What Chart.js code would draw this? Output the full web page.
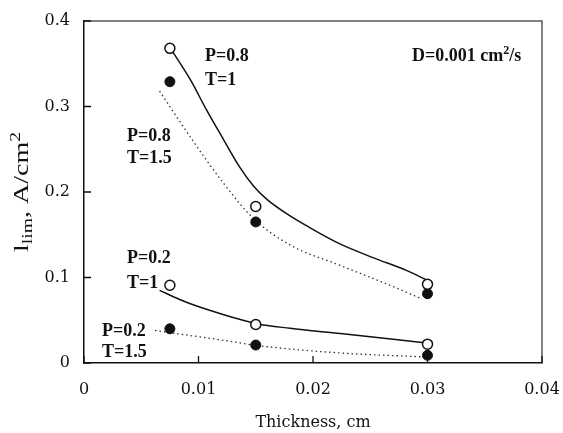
<!DOCTYPE html>
<html>
<head>
<meta charset="utf-8">
<script src="https://cdn.jsdelivr.net/npm/chart.js@4/dist/chart.umd.min.js"></script>
<style>
  body { margin: 0; background: #fff; }
  #wrap { width: 563px; height: 433px; }
</style>
</head>
<body>
<div id="wrap"><canvas id="myChart" width="563" height="433"></canvas></div>
<script>
// measured points (thickness in cm, current in A/cm2)
const thickness = [0.0075, 0.015, 0.03];
const p08t1 = [0.368, 0.183, 0.092];
const p08t15 = [0.329, 0.165, 0.081];
const p02t1 = [0.091, 0.045, 0.022];
const p02t15 = [0.040, 0.021, 0.009];

// model curves
const fitP08T1x = [0.0077, 0.0093, 0.0107, 0.0122, 0.0136, 0.0148, 0.016, 0.018, 0.0195, 0.0224, 0.0253, 0.0282, 0.0298];
const fitP08T1y = [0.365, 0.331, 0.296, 0.261, 0.229, 0.207, 0.191, 0.172, 0.160, 0.139, 0.123, 0.108, 0.098];
const fitP08T15x = [0.0066, 0.0093, 0.0122, 0.0148, 0.018, 0.0224, 0.0267, 0.0295];
const fitP08T15y = [0.318, 0.264, 0.210, 0.169, 0.138, 0.114, 0.091, 0.075];
const fitP02T1x = [0.0066, 0.0084, 0.0101, 0.0151, 0.018, 0.0224, 0.0299];
const fitP02T1y = [0.085, 0.074, 0.0655, 0.046, 0.0406, 0.0344, 0.0234];
const fitP02T15x = [0.0062, 0.0075, 0.0122, 0.0151, 0.0224, 0.0299];
const fitP02T15y = [0.038, 0.0355, 0.0265, 0.0205, 0.0117, 0.007];

const xTickLabels = ['0', '0.01', '0.02', '0.03', '0.04'];
const yTickLabels = ['0', '0.1', '0.2', '0.3', '0.4'];

// text labels inside the plot, anchored in data units
const noteText = ['P=0.8', 'T=1', 'P=0.8', 'T=1.5', 'P=0.2', 'T=1', 'P=0.2', 'T=1.5'];
const noteX = [0.01057, 0.01057, 0.00376, 0.00376, 0.00376, 0.00376, 0.00157, 0.00157];
const noteY = [0.3585, 0.3307, 0.2652, 0.2394, 0.1225, 0.0932, 0.0371, 0.0125];

function pts(xs, ys) {
    return xs.map((x, i) => ({ x: x, y: ys[i] }));
}

const serif = '"DejaVu Serif", serif';
const times = '"Liberation Serif", "Times New Roman", serif';

const decor = {
    id: 'decor',
    afterDraw(chart) {
        const c = chart.ctx;
        const a = chart.chartArea;
        const xs = chart.scales.x, ys = chart.scales.y;
        c.save();

        // frame top / right
        c.strokeStyle = '#5a5a5a';
        c.lineWidth = 1.5;
        c.beginPath();
        c.moveTo(a.left, a.top);
        c.lineTo(a.right, a.top);
        c.lineTo(a.right, a.bottom);
        c.stroke();

        // inward ticks
        c.strokeStyle = '#111';
        c.lineWidth = 1.3;
        c.beginPath();
        xs.ticks.forEach(t => {
            const px = xs.getPixelForValue(t.value);
            c.moveTo(px, a.bottom);
            c.lineTo(px, a.bottom - 7);
        });
        ys.ticks.forEach(t => {
            const py = ys.getPixelForValue(t.value);
            c.moveTo(a.left, py);
            c.lineTo(a.left + 7, py);
        });
        c.stroke();

        // annotations
        c.fillStyle = '#111';
        c.font = 'bold 18px ' + times;
        c.textBaseline = 'middle';
        c.textAlign = 'left';
        noteText.forEach((s, i) => {
            c.fillText(s, xs.getPixelForValue(noteX[i]), ys.getPixelForValue(noteY[i]));
        });

        // D=0.001 cm2/s
        let dx = xs.getPixelForValue(0.02865);
        const dy = ys.getPixelForValue(0.36) + 6;
        c.textBaseline = 'alphabetic';
        c.font = 'bold 18px ' + times;
        c.fillText('D=0.001 cm', dx, dy);
        dx += c.measureText('D=0.001 cm').width;
        c.font = 'bold 12px ' + times;
        c.fillText('2', dx, dy - 7);
        dx += c.measureText('2').width;
        c.font = 'bold 18px ' + times;
        c.fillText('/s', dx, dy);

        // x title
        c.font = '16px ' + serif;
        c.textAlign = 'center';
        c.textBaseline = 'middle';
        c.fillText('Thickness, cm', (a.left + a.right) / 2, 423);

        // y title with sub / superscript
        c.translate(28, 192);
        c.rotate(-Math.PI / 2);
        c.scale(1.4, 1);
        c.textAlign = 'left';
        c.textBaseline = 'alphabetic';
        const parts = [
            ['l', 20, 0], ['lim', 14, 4], [', A/cm', 20, 0], ['2', 14, -8]
        ];
        let w = 0;
        parts.forEach(p => { c.font = p[1] + 'px ' + times; w += c.measureText(p[0]).width; });
        let tx = -w / 2;
        parts.forEach(p => {
            c.font = p[1] + 'px ' + times;
            c.fillText(p[0], tx, p[2]);
            tx += c.measureText(p[0]).width;
        });
        c.restore();
    }
};

const ctx = document.getElementById('myChart').getContext('2d');

new Chart(ctx, {
    type: 'scatter',
    data: {
        datasets: [
            { data: pts(thickness, p08t1), pointStyle: 'circle', pointRadius: 5, pointBackgroundColor: '#fff', pointBorderColor: '#111', pointBorderWidth: 1.5, order: 0 },
            { data: pts(thickness, p08t15), pointStyle: 'circle', pointRadius: 5, pointBackgroundColor: '#111', pointBorderColor: '#111', pointBorderWidth: 1, order: 0 },
            { data: pts(thickness, p02t1), pointStyle: 'circle', pointRadius: 5, pointBackgroundColor: '#fff', pointBorderColor: '#111', pointBorderWidth: 1.5, order: 0 },
            { data: pts(thickness, p02t15), pointStyle: 'circle', pointRadius: 5, pointBackgroundColor: '#111', pointBorderColor: '#111', pointBorderWidth: 1, order: 0 },
            { data: pts(fitP08T1x, fitP08T1y), showLine: true, pointRadius: 0, borderColor: '#111', borderWidth: 1.5, cubicInterpolationMode: 'monotone', order: 1 },
            { data: pts(fitP08T15x, fitP08T15y), showLine: true, pointRadius: 0, borderColor: '#333', borderWidth: 1.3, borderDash: [1.5, 3], cubicInterpolationMode: 'monotone', order: 1 },
            { data: pts(fitP02T1x, fitP02T1y), showLine: true, pointRadius: 0, borderColor: '#111', borderWidth: 1.5, cubicInterpolationMode: 'monotone', order: 1 },
            { data: pts(fitP02T15x, fitP02T15y), showLine: true, pointRadius: 0, borderColor: '#333', borderWidth: 1.3, borderDash: [1.5, 3], cubicInterpolationMode: 'monotone', order: 1 }
        ]
    },
    options: {
        responsive: false,
        animation: false,
        devicePixelRatio: 1,
        layout: { padding: { top: 21, right: 21, left: 0, bottom: 0 } },
        plugins: {
            legend: { display: false },
            tooltip: { enabled: false }
        },
        scales: {
            x: {
                type: 'linear',
                min: 0,
                max: 0.04,
                afterFit: s => { s.height = 70; s.paddingLeft = 0; s.paddingRight = 0; },
                ticks: {
                    stepSize: 0.01,
                    padding: 17,
                    color: '#111',
                    font: { family: serif, size: 16 },
                    callback: (v, i) => xTickLabels[i]
                },
                grid: { display: false, drawTicks: false },
                border: { display: true, color: '#111', width: 1.5 }
            },
            y: {
                min: 0,
                max: 0.4,
                afterFit: s => { s.width = 84; s.paddingTop = 0; s.paddingBottom = 0; },
                ticks: {
                    stepSize: 0.1,
                    padding: 14,
                    color: '#111',
                    font: { family: serif, size: 16 },
                    callback: (v, i) => yTickLabels[i]
                },
                grid: { display: false, drawTicks: false },
                border: { display: true, color: '#111', width: 1.5 }
            }
        }
    },
    plugins: [decor]
});
</script>
</body>
</html>
